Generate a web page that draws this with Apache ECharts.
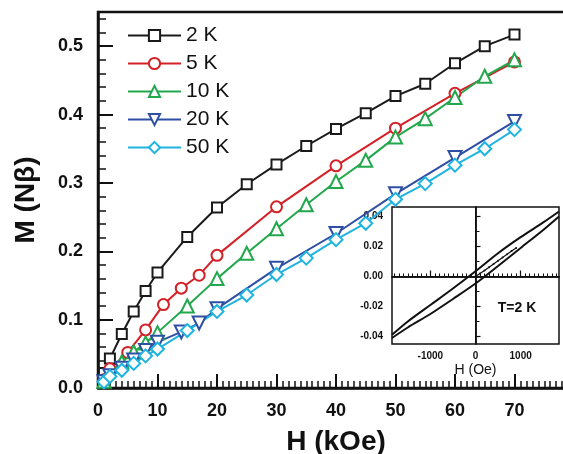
<!DOCTYPE html>
<html>
<head>
<meta charset="utf-8">
<script src="https://cdn.jsdelivr.net/npm/echarts@6/dist/echarts.min.js"></script>
<style>
  html, body { margin: 0; padding: 0; background: #fff; }
  #chart { width: 563px; height: 454px; }
</style>
</head>
<body>
<div id="chart"></div>
<script>
// Magnetization M (per formula unit, Nβ) against applied field H (kOe)
const H2K  = [1, 2, 4, 6, 8, 10, 15, 20, 25, 30, 35, 40, 45, 50, 55, 60, 65, 70];
const M2K  = [0.022, 0.043, 0.079, 0.112, 0.142, 0.169, 0.221, 0.264, 0.298, 0.327, 0.354, 0.379, 0.402, 0.427, 0.445, 0.475, 0.500, 0.517];
const H5K  = [1, 2, 5, 8, 11, 14, 17, 20, 30, 40, 50, 60, 70];
const M5K  = [0.012, 0.028, 0.052, 0.085, 0.122, 0.146, 0.165, 0.194, 0.265, 0.325, 0.380, 0.431, 0.477];
const H10K = [1, 4, 6, 8, 10, 15, 20, 25, 30, 35, 40, 45, 50, 55, 60, 65, 70];
const M10K = [0.010, 0.038, 0.053, 0.066, 0.081, 0.120, 0.160, 0.197, 0.233, 0.268, 0.302, 0.333, 0.367, 0.394, 0.425, 0.456, 0.480];
const H20K = [1, 2, 4, 6, 8, 10, 14, 17, 20, 30, 40, 50, 60, 70];
const M20K = [0.009, 0.018, 0.029, 0.041, 0.055, 0.067, 0.082, 0.095, 0.116, 0.175, 0.226, 0.284, 0.337, 0.390];
const H50K = [1, 2, 4, 6, 8, 10, 15, 20, 25, 30, 35, 40, 45, 50, 55, 60, 65, 70];
const M50K = [0.009, 0.017, 0.026, 0.036, 0.047, 0.057, 0.084, 0.112, 0.136, 0.166, 0.190, 0.217, 0.241, 0.276, 0.299, 0.326, 0.350, 0.378];

const seriesNames = ['2 K', '5 K', '10 K', '20 K', '50 K'];

// Inset: hysteresis loop at T = 2 K, H in Oe
const loopDownH = [1850, 1500, 1000, 500, 0, -500, -1000, -1500, -1850];
const loopDownM = [0.0433, 0.0360, 0.0262, 0.0155, 0.0035, -0.0080, -0.0190, -0.0300, -0.0389];
const loopUpH   = [-1850, -1500, -1000, -500, 0, 500, 1000, 1500, 1850];
const loopUpM   = [-0.0410, -0.0340, -0.0250, -0.0150, -0.0047, 0.0070, 0.0190, 0.0310, 0.0400];
const virginH   = [0, 100, 200, 300, 400, 500, 600, 700, 800, 900];
const virginM   = [0, 0.0020, 0.0040, 0.0062, 0.0083, 0.0105, 0.0127, 0.0148, 0.0170, 0.0190];

const insetMajorH = [-1000, 0, 1000];
const insetMajorM = [-0.04, -0.02, 0, 0.02, 0.04];

const FONT = '"Liberation Sans", Arial, Helvetica, sans-serif';
const INK = '#111';

const pairs = (xs, ys) => xs.map((x, i) => [x, ys[i]]);

const insetMinorH = [];
for (let h = -1800; h <= 1800; h += 100) insetMinorH.push(h);
const insetMinorM = [];
for (let k = -4; k <= 4; k++) insetMinorM.push(+(k * 0.01).toFixed(2));

function mainSeries(name, xs, ys, color, symbol, size, rotate) {
  return {
    name, type: 'line', xAxisIndex: 0, yAxisIndex: 0,
    data: pairs(xs, ys),
    color,
    symbol, symbolSize: size, symbolRotate: rotate || 0,
    showAllSymbol: true,
    lineStyle: { color, width: 2 },
    itemStyle: { color: '#fff', borderColor: color, borderWidth: 2 },
    emphasis: { disabled: true }
  };
}

const chart = echarts.init(document.getElementById('chart'), null, { renderer: 'canvas' });

chart.setOption({
  animation: false,
  backgroundColor: '#fff',
  textStyle: { fontFamily: FONT },
  grid: [
    { left: 98, top: 12, right: -11, bottom: 66, show: true, borderColor: INK, borderWidth: 2.5,
      backgroundColor: 'transparent', outerBoundsMode: 'none', containLabel: false },
    { left: 392, top: 207, width: 167, height: 137, show: true, borderColor: INK, borderWidth: 1.5,
      backgroundColor: '#fff', outerBoundsMode: 'none', containLabel: false }
  ],
  legend: {
    left: 122, top: 20, orient: 'vertical',
    itemWidth: 53, itemHeight: 14, itemGap: 7,
    data: seriesNames,
    textStyle: { fontSize: 21, lineHeight: 21, color: INK, fontFamily: FONT }
  },
  xAxis: [
    {
      gridIndex: 0, type: 'value', min: 0, max: 80, interval: 10,
      axisLine: { lineStyle: { color: INK, width: 2.5 } },
      axisTick: { inside: true, length: 14, lineStyle: { color: INK, width: 2 } },
      minorTick: { show: true, splitNumber: 10, length: 7, lineStyle: { color: INK, width: 1.5 } },
      splitLine: { show: false },
      axisLabel: { fontSize: 18, fontWeight: 'bold', color: INK, margin: 14, fontFamily: FONT },
      name: 'H (kOe)', nameLocation: 'middle', nameGap: 40,
      nameTextStyle: { fontSize: 28, fontWeight: 'bold', color: INK, fontFamily: FONT }
    },
    {
      gridIndex: 1, type: 'value', min: -1850, max: 1850, position: 'bottom',
      axisLine: { lineStyle: { color: INK, width: 1.5 } },
      axisTick: { inside: true, length: 3, customValues: insetMinorH, lineStyle: { color: INK, width: 1 } },
      axisLabel: { show: false },
      splitLine: { show: false }
    },
    {
      gridIndex: 1, type: 'value', min: -1850, max: 1850, position: 'bottom',
      axisLine: { lineStyle: { color: INK, width: 1.5 } },
      axisTick: { inside: true, length: 6, customValues: insetMajorH, lineStyle: { color: INK, width: 1.2 } },
      axisLabel: { customValues: insetMajorH, fontSize: 10, fontWeight: 'bold', color: INK, margin: 7,
                   fontFamily: FONT, formatter: v => String(v) },
      splitLine: { show: false },
      name: 'H (Oe)', nameLocation: 'middle', nameGap: 19,
      nameTextStyle: { fontSize: 14, color: INK, fontFamily: FONT }
    }
  ],
  yAxis: [
    {
      gridIndex: 0, type: 'value', min: 0, max: 0.55, interval: 0.1, position: 'left',
      axisLine: { lineStyle: { color: INK, width: 2.5 } },
      axisTick: { inside: true, length: 15, lineStyle: { color: INK, width: 2 } },
      splitLine: { show: false },
      axisLabel: { fontSize: 18, fontWeight: 'bold', color: INK, margin: 15, showMaxLabel: false,
                   fontFamily: FONT, formatter: v => v.toFixed(1) },
      name: 'M (Nβ)', nameLocation: 'middle', nameGap: 58, nameRotate: 90,
      nameTextStyle: { fontSize: 28, fontWeight: 'bold', color: INK, fontFamily: FONT }
    },
    {
      gridIndex: 0, type: 'value', min: 0, max: 0.55, interval: 0.02, position: 'left',
      axisLine: { show: false },
      axisTick: { inside: true, length: 8, lineStyle: { color: INK, width: 1.5 } },
      axisLabel: { show: false },
      splitLine: { show: false }
    },
    {
      gridIndex: 1, type: 'value', min: -0.045, max: 0.0463, position: 'left',
      axisLine: { lineStyle: { color: INK, width: 1.5 } },
      axisTick: { inside: true, length: 4, customValues: insetMinorM, lineStyle: { color: INK, width: 1 } },
      axisLabel: { show: false },
      splitLine: { show: false }
    },
    {
      gridIndex: 1, type: 'value', min: -0.045, max: 0.0463, position: 'left',
      axisLine: { lineStyle: { color: INK, width: 1.5 } },
      axisTick: { inside: true, length: 5, customValues: insetMajorM, lineStyle: { color: INK, width: 1.2 } },
      axisLabel: { customValues: insetMajorM, fontSize: 10, fontWeight: 'bold', color: INK, margin: 9,
                   fontFamily: FONT, formatter: v => v.toFixed(2) },
      splitLine: { show: false }
    }
  ],
  series: [
    mainSeries('2 K',  H2K,  M2K,  '#1a1a1a', 'rect', 10),
    mainSeries('5 K',  H5K,  M5K,  '#d42027', 'circle', 11),
    mainSeries('10 K', H10K, M10K, '#22a84c', 'triangle', 13),
    mainSeries('20 K', H20K, M20K, '#2e4fa3', 'triangle', 13, 180),
    mainSeries('50 K', H50K, M50K, '#1fb4e0', 'diamond', 13),
    {
      name: 'loop-down', type: 'line', xAxisIndex: 2, yAxisIndex: 3,
      data: pairs(loopDownH, loopDownM), symbol: 'none', smooth: 0.3,
      lineStyle: { color: INK, width: 2 }, emphasis: { disabled: true },
      markLine: {
        silent: true, symbol: ['none', 'none'], label: { show: false },
        lineStyle: { color: INK, width: 1, type: 'solid' },
        data: [{ xAxis: 0 }, { yAxis: 0 }]
      }
    },
    {
      name: 'loop-up', type: 'line', xAxisIndex: 2, yAxisIndex: 3,
      data: pairs(loopUpH, loopUpM), symbol: 'none', smooth: 0.3,
      lineStyle: { color: INK, width: 2 }, emphasis: { disabled: true }
    },
    {
      name: 'virgin', type: 'line', xAxisIndex: 2, yAxisIndex: 3,
      data: pairs(virginH, virginM), symbol: 'circle', symbolSize: 2,
      itemStyle: { color: INK },
      lineStyle: { color: INK, width: 1.2 }, emphasis: { disabled: true }
    }
  ],
  graphic: [
    {
      type: 'text', x: 517, y: 308, z: 100,
      style: { text: 'T=2 K', fontSize: 14, fontWeight: 'bold', fill: INK, fontFamily: FONT,
               textAlign: 'center', textVerticalAlign: 'middle' }
    }
  ]
});
</script>
</body>
</html>
